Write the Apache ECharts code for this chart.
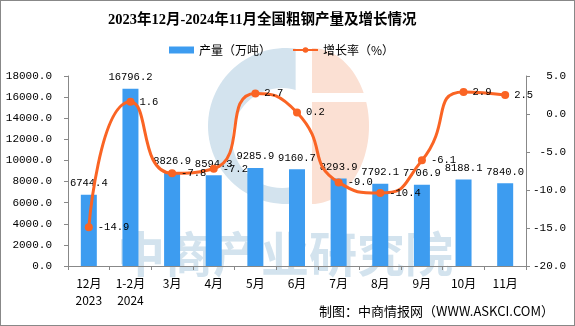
<!DOCTYPE html>
<html><head><meta charset="utf-8">
<script src="https://cdn.jsdelivr.net/npm/echarts@6/dist/echarts.min.js"></script>
<style>html,body{margin:0;padding:0;background:#fff}#c{width:573px;height:324px;border:1px solid #888}</style>
</head><body><div id="c"></div>
<script>
var categories = ['12月\n2023','1-2月\n2024','3月','4月','5月','6月','7月','8月','9月','10月','11月'];
var production = [6744.4,16796.2,8826.9,8594.3,9285.9,9160.7,8293.9,7792.1,7706.9,8188.1,7840.0];
var growth = [-14.9,1.6,-7.8,-7.2,2.7,0.2,-9.0,-10.4,-6.1,2.9,2.5];
var font = '"Noto Sans CJK SC", sans-serif';
var mono = '"Liberation Mono", "DejaVu Sans Mono", monospace';

// decorative logo outlines (watermark)
function arcPts(cx, cy, rx, ry, a0, a1, n) {
  var pts = [];
  for (var i = 0; i <= n; i++) {
    var a = a0 + (a1 - a0) * i / n;
    pts.push([cx + rx * Math.cos(a), cy + ry * Math.sin(a)]);
  }
  return pts;
}
var ca = Math.asin(77.4 / 78);
var bluePts = arcPts(285, 125, 78, 78, -ca, -2 * Math.PI + ca, 60);
var orangePts = arcPts(311, 125, 57, 78, -Math.PI / 2, Math.PI / 2, 60);

var chart = echarts.init(document.getElementById('c'));
chart.setOption({
  animation:false,
  title:{text:'2023年12月-2024年11月全国粗钢产量及增长情况',left:102,top:7,textStyle:{fontFamily:'"Liberation Serif", "Noto Sans CJK SC", serif',fontSize:14.5,fontWeight:'bold',color:'#000'}},
  legend:{top:38,left:163,itemGap:21,itemWidth:25,itemHeight:7,textStyle:{fontFamily:font,fontSize:12,color:'#000'},
    data:[{name:'产量（万吨）',icon:'rect'},{name:'增长率（%）'}]},
  graphic:[
    {type:'polygon',z:-10,shape:{points:bluePts},style:{fill:'#d3e3ee'}},
    {type:'circle',z:-9,shape:{cx:281,cy:137,r:50},style:{fill:'#fff'}},
    {type:'polygon',z:-8,shape:{points:orangePts},style:{fill:'#fbe0d3'}},
    {type:'rect',z:-7,shape:{x:311,y:92,width:70,height:9},style:{fill:'#fff'}},
    {type:'text',left:116,top:229,z:-6,style:{text:'中商产业研究院',fontSize:48,fontWeight:'bold',fontFamily:font,fill:'#d3e3ee'}},
    {type:'text',right:20,top:304,style:{text:'制图：中商情报网（WWW.ASKCI.COM）',fontSize:13,fontFamily:font,fill:'#000'}}
  ],
  grid:{left:67,right:48,top:75,bottom:59},
  xAxis:{type:'category',data:categories,axisLine:{lineStyle:{color:'#888'}},axisTick:{show:true,length:4,lineStyle:{color:'#888'}},
    axisLabel:{fontFamily:font,fontSize:12,color:'#000',margin:9,lineHeight:17}},
  yAxis:[
    {type:'value',min:0,max:18000,interval:2000,splitLine:{show:false},axisLine:{show:true,lineStyle:{color:'#888'}},axisTick:{show:true,length:4,lineStyle:{color:'#888'}},
      axisLabel:{fontFamily:mono,fontSize:11,color:'#000',margin:16,formatter:function(v){return v.toFixed(1);}}},
    {type:'value',min:-20,max:5,interval:5,splitLine:{show:false},axisLine:{show:true,lineStyle:{color:'#888'}},axisTick:{show:true,length:4,lineStyle:{color:'#888'}},
      axisLabel:{fontFamily:mono,fontSize:11,color:'#000',margin:40,align:'right',formatter:function(v){return v.toFixed(1);}}}
  ],
  series:[
    {name:'产量（万吨）',type:'bar',data:production,barWidth:16,itemStyle:{color:'#3d9cf0'},
      label:{show:true,position:'top',fontFamily:mono,fontSize:10.5,color:'#000',distance:6,formatter:function(p){return p.value.toFixed(1);}}},
    {name:'增长率（%）',type:'line',yAxisIndex:1,data:growth,smooth:0.6,symbol:'circle',symbolSize:8,
      lineStyle:{color:'#fa6424',width:3},itemStyle:{color:'#fa6424'},
      label:{show:true,position:'right',fontFamily:mono,fontSize:10.5,color:'#000',distance:5,formatter:function(p){return p.value.toFixed(1);}}}
  ]
});
</script></body></html>
